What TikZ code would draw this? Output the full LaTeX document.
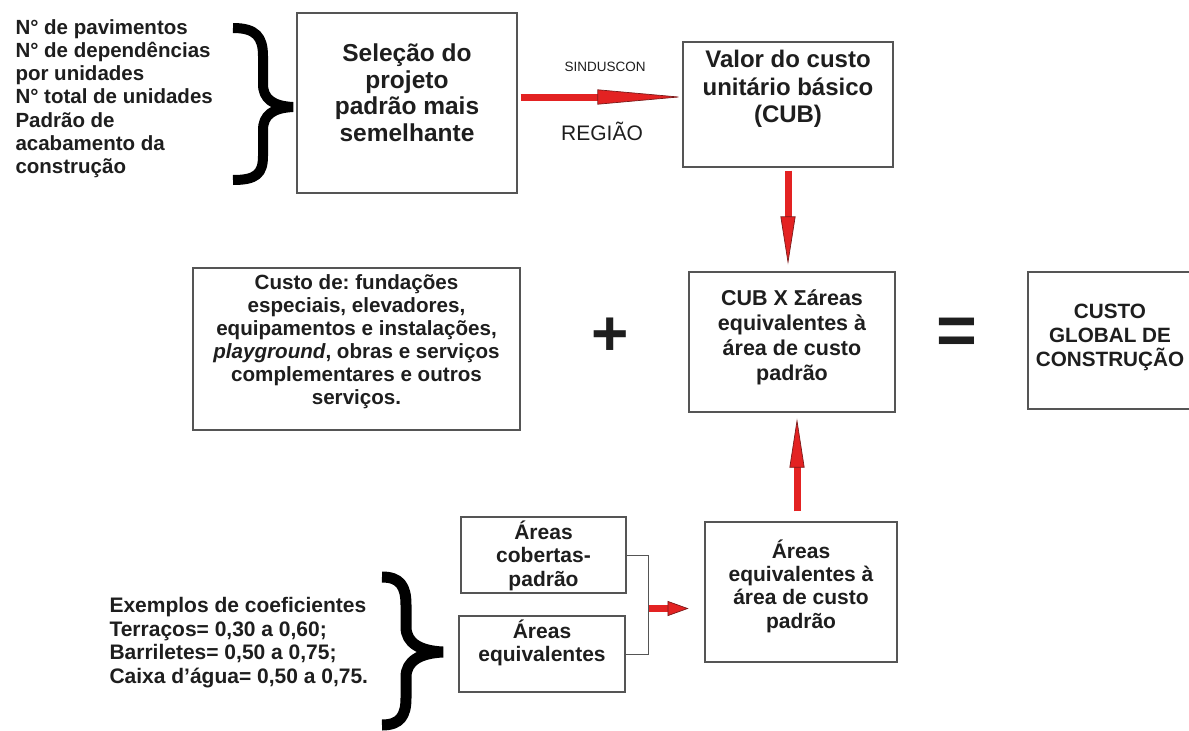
\documentclass[tikz,border=0pt]{standalone}
\usepackage{fontspec}
\setmainfont{Liberation Sans}
\frenchspacing
\usetikzlibrary{arrows.meta,calc,positioning}

\definecolor{boxgray}{HTML}{555555}
\definecolor{inkgray}{HTML}{1E1E1E}
\definecolor{arrowred}{HTML}{E32222}
\definecolor{arrowdark}{HTML}{7A1A1A}

\newcommand{\fsz}[2]{\fontsize{#1}{#2}\selectfont}

\tikzset{
  box/.style={draw=boxgray, line width=1.2pt, inner sep=0pt},
  lbl/.style={anchor=north, inner sep=0pt, align=center, text=inkgray},
  bigarrow/.style={line width=7pt, draw=arrowred,
    -{Triangle[length=#1, width=15pt, color=arrowdark, fill=arrowred, line width=0.7pt]}},
  link/.style={draw=boxgray, line width=1pt},
  brace/.style={line width=10pt, black, line join=bevel}
}

\begin{document}
\begin{tikzpicture}[x=1pt, y=-1pt, text=inkgray]
\fill[white] (0,0) rectangle (1189,731);
\useasboundingbox (0,0) rectangle (1189,731);

% dados do projeto
\node[anchor=west, align=left, font=\bfseries\fsz{20.5}{23.2}] (dados) at (12,98.5)
  {N° de pavimentos\\N° de dependências\\por unidades\\N° total de unidades\\Padrão de\\acabamento da\\construção};
\draw[brace] (233,28) .. controls (256,28) and (263,37) .. (263,56) -- (263,84)
  .. controls (263,99) and (273,106) .. (293,107)
  .. controls (273,108) and (263,115) .. (263,130) -- (263,156)
  .. controls (263,174) and (256,180) .. (233,180);

\node[box, minimum width=220pt, minimum height=180pt,
  label={[lbl, font=\bfseries\fsz{24.5}{26.7}, yshift=-31pt]north:{Seleção do\\projeto\\padrão mais\\semelhante}}] (sel) at (407,103) {};

\node[box, minimum width=210pt, minimum height=125pt,
  label={[lbl, font=\bfseries\fsz{24}{27.5}, yshift=-9pt]north:{Valor do custo\\unitário básico\\(CUB)}}] (cub) at (788,104.5) {};

\node[font=\fsz{13.5}{15}] (sind) at (605,67) {SINDUSCON};
\node[font=\fsz{21}{24}] (regiao) at (602,131) {REGIÃO};

% linha do meio
\node[box, minimum width=327pt, minimum height=162pt,
  label={[lbl, font=\bfseries\fsz{20.6}{23}, yshift=-6.5pt]north:{Custo de: fundações\\especiais, elevadores,\\equipamentos e instalações,\\\textit{playground}, obras e serviços\\complementares e outros\\serviços.}}] (custo) at (356.5,349) {};

\node[font=\bfseries\fsz{64}{64}] (mais) at (610,337) {+};

\node[box, minimum width=206pt, minimum height=140pt,
  label={[lbl, font=\bfseries\fsz{21.5}{25}, yshift=-18pt]north:{CUB X Σáreas\\equivalentes à\\área de custo\\padrão}}] (cubx) at (792,342) {};

\node[font=\bfseries\fsz{70}{70}] (igual) at (957,336) {=};

\node[box, minimum width=164pt, minimum height=137pt,
  label={[lbl, font=\bfseries\fsz{20.7}{24}, yshift=-32.5pt]north:{CUSTO\\GLOBAL DE\\CONSTRUÇÃO}}] (global) at (1110,340.5) {};

% parte de baixo
\node[anchor=west, align=left, font=\bfseries\fsz{21}{23.7}] (coef) at (106,642.5)
  {Exemplos de coeficientes\\Terraços= 0,30 a 0,60;\\Barriletes= 0,50 a 0,75;\\Caixa d’água= 0,50 a 0,75.};
\draw[brace, line width=11pt] (382,577) .. controls (400,577) and (406,586) .. (406,605) -- (406,627)
  .. controls (406,643) and (420,651) .. (443,652)
  .. controls (420,653) and (406,661) .. (406,677) -- (406,698)
  .. controls (406,716) and (400,725) .. (382,725);

\node[box, minimum width=165pt, minimum height=76pt,
  label={[lbl, font=\bfseries\fsz{21}{23.5}, yshift=-4pt]north:{Áreas\\cobertas-\\padrão}}] (cob) at (543.5,555) {};
\node[box, minimum width=166pt, minimum height=76pt,
  label={[lbl, font=\bfseries\fsz{21}{23.5}, yshift=-4pt]north:{Áreas\\equivalentes}}] (eqv) at (542,654) {};

\node[box, minimum width=192pt, minimum height=140pt,
  label={[lbl, font=\bfseries\fsz{21}{23.3}, yshift=-18pt]north:{Áreas\\equivalentes à\\área de custo\\padrão}}] (areq) at (801,592) {};

% setas
\draw[bigarrow=85pt] ($(sel.east)+(3,-6)$) -- ($(sel.east -| cub.west)+(0,-6)$);
\draw[bigarrow=48pt] ($(cub.south)+(0,3)$) -- ($(cub.south |- cubx.north)+(0,-7)$);
\coordinate (upt) at ($(cubx.south)+(5,6)$);
\draw[bigarrow=49pt] ($(upt |- areq.north)+(0,-10)$) -- (upt);

\draw[link] (cob.east) -- ++(22,0) |- (eqv.east);
\coordinate (jn) at ($(cob.east)!0.5!(eqv.east)+(22.5,4)$);
\coordinate (jtip) at ($(jn)+(40,0)$);
\draw[bigarrow=21pt] (jn) -- (jtip);
\end{tikzpicture}
\end{document}
